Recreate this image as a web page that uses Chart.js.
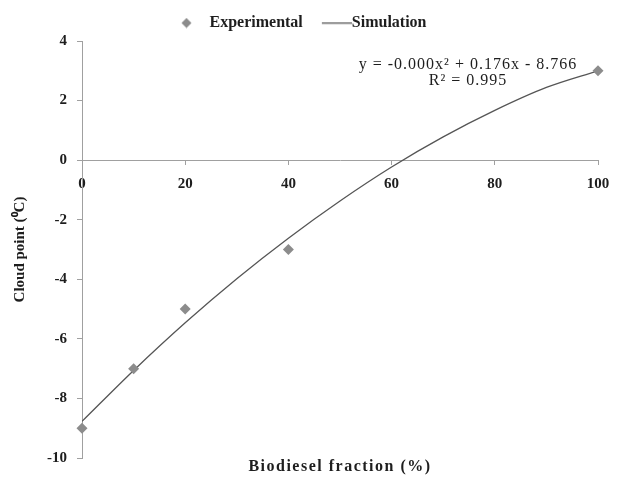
<!doctype html>
<html>
<head>
	<title>Cloud point vs biodiesel fraction</title>
	<meta charset=utf-8>
	<script src="https://cdn.jsdelivr.net/npm/chart.js@4/dist/chart.umd.min.js"></script>
	<style>
		body { margin: 0; background: #fff; }
	</style>
</head>
<body>
	<canvas id="chart-area" width="622" height="482"></canvas>

	<script>
		// measured cloud points
		var expFraction = [0, 10, 20, 40, 100];
		var expCloud = [-9, -7, -5, -3, 3];

		// fitted curve, read every 10 %
		var simFraction = [0, 10, 20, 30, 40, 50, 60, 70, 80, 90, 100];
		var simCloud = [-8.77, -7.06, -5.46, -3.98, -2.62, -1.37, -0.23, 0.78, 1.67, 2.44, 3.0];

		var yTicks = [-10, -8, -6, -4, -2, 0, 2, 4];
		var xTicks = [0, 20, 40, 60, 80, 100];

		var fitText = ['y = -0.000x\u00B2 + 0.176x - 8.766', 'R\u00B2 = 0.995'];
		var xTitle = 'Biodiesel fraction (%)';
		var yTitle = 'Cloud point (\u2070C)';

		var serif = '"Liberation Serif", "Times New Roman", serif';
		var textColor = '#1e1e1e';
		var axisColor = '#a0a0a0';
		var markColor = '#8c8c8c';
		var lineColor = '#555555';

		function toXY(xs, ys) {
			return xs.map(function(x, i) { return { x: x, y: ys[i] }; });
		}

		// little legend symbols
		function diamondIcon() {
			var c = document.createElement('canvas');
			c.width = 11; c.height = 11;
			var g = c.getContext('2d');
			g.fillStyle = markColor;
			g.beginPath();
			g.moveTo(5.5, 0.5); g.lineTo(10.5, 5.5); g.lineTo(5.5, 10.5); g.lineTo(0.5, 5.5);
			g.closePath();
			g.fill();
			return c;
		}
		function lineIcon() {
			var c = document.createElement('canvas');
			c.width = 46; c.height = 3;
			var g = c.getContext('2d');
			g.strokeStyle = lineColor;
			g.lineWidth = 1.3;
			g.beginPath();
			g.moveTo(16, 1.5); g.lineTo(46, 1.5);
			g.stroke();
			return c;
		}
		var icons = [diamondIcon(), lineIcon()];

		// equation box and bottom axis title
		var annotations = {
			id: 'annotations',
			afterDraw: function(chart) {
				var ctx = chart.ctx;
				var area = chart.chartArea;
				ctx.save();
				ctx.fillStyle = textColor;
				ctx.textAlign = 'center';
				ctx.textBaseline = 'middle';
				ctx.font = '16px ' + serif;
				ctx.letterSpacing = '1px';
				ctx.fillText(fitText[0], 468, 65);
				ctx.fillText(fitText[1], 468, 81);
				ctx.font = 'bold 16px ' + serif;
				ctx.letterSpacing = '1.5px';
				ctx.fillText(xTitle, (area.left + area.right) / 2, 467);
				ctx.restore();
			}
		};

		var config = {
			type: 'scatter',
			data: {
				datasets: [{
					label: 'Experimental',
					data: toXY(expFraction, expCloud),
					pointStyle: 'rectRot',
					pointRadius: 5.5,
					pointHoverRadius: 5.5,
					backgroundColor: markColor,
					borderColor: markColor,
					borderWidth: 0,
					clip: false,
					order: 0
				}, {
					label: 'Simulation',
					data: toXY(simFraction, simCloud),
					showLine: true,
					pointRadius: 0,
					borderColor: lineColor,
					borderWidth: 1.3,
					cubicInterpolationMode: 'monotone',
					order: 1
				}]
			},
			options: {
				responsive: false,
				animation: false,
				layout: { padding: { top: 4, right: 24, bottom: 24, left: 0 } },
				plugins: {
					tooltip: { enabled: false },
					legend: {
						position: 'top',
						labels: {
							color: textColor,
							font: { family: serif, size: 16, weight: 'bold' },
							usePointStyle: true,
							pointStyleWidth: 30,
							padding: 11,
							generateLabels: function(chart) {
								var items = Chart.defaults.plugins.legend.labels.generateLabels(chart);
								items.forEach(function(item, i) { item.pointStyle = icons[i]; });
								return items;
							}
						}
					}
				},
				scales: {
					x: {
						type: 'linear',
						position: { y: 0 },
						min: 0,
						max: 100,
						afterBuildTicks: function(scale) {
							scale.ticks = xTicks.map(function(v) { return { value: v }; });
						},
						grid: { drawOnChartArea: false, tickLength: 4, color: axisColor },
						border: { color: axisColor, width: 1 },
						ticks: {
							color: textColor,
							padding: 11,
							maxRotation: 0,
							font: { family: serif, size: 15, weight: 'bold' }
						}
					},
					y: {
						type: 'linear',
						min: -10,
						max: 4,
						afterBuildTicks: function(scale) {
							scale.ticks = yTicks.map(function(v) { return { value: v }; });
						},
						afterFit: function(scale) { scale.width = 82; },
						grid: { drawOnChartArea: false, tickLength: 5, color: axisColor },
						border: { color: axisColor, width: 1 },
						ticks: {
							color: textColor,
							padding: 10,
							font: { family: serif, size: 15, weight: 'bold' }
						},
						title: {
							display: true,
							text: yTitle,
							color: textColor,
							padding: { top: 11, bottom: 0 },
							font: { family: serif, size: 15, weight: 'bold' }
						}
					}
				}
			},
			plugins: [annotations]
		};

		window.onload = function() {
			var ctx = document.getElementById('chart-area').getContext('2d');
			window.myChart = new Chart(ctx, config);
		};
	</script>
</body>
</html>
